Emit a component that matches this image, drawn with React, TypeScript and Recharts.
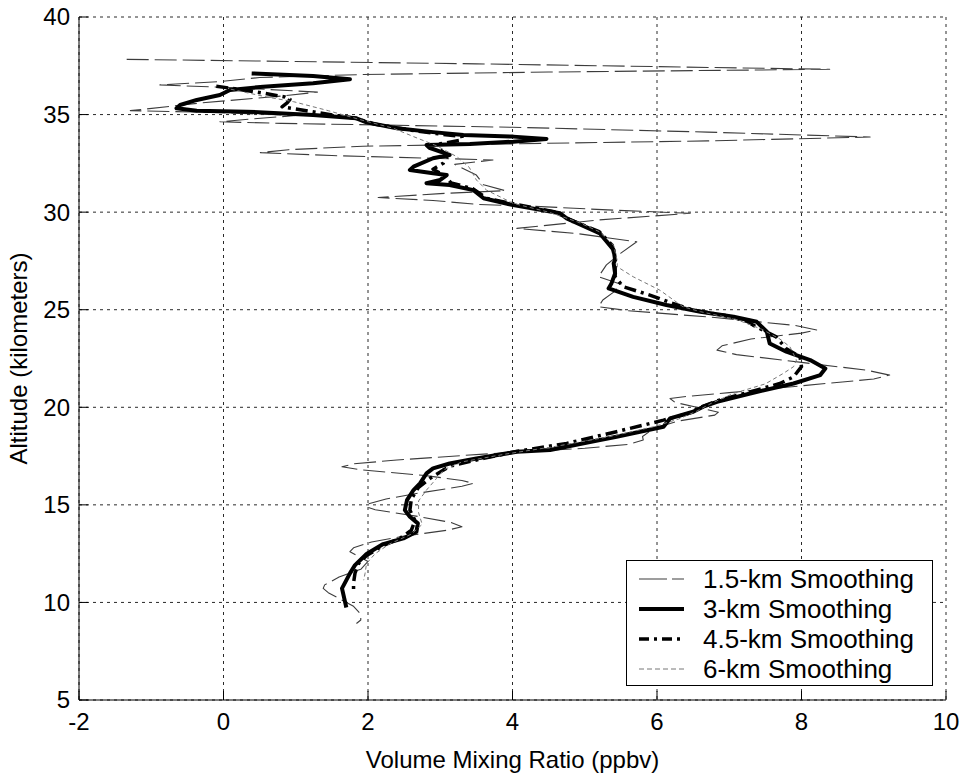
import React from 'react';
import { ScatterChart, Scatter, XAxis, YAxis, CartesianGrid, Legend } from 'recharts';

const FONT = "'Liberation Sans', Arial, Helvetica, sans-serif";
const FONT_SIZE = 24;
const LEGEND_FONT_SIZE = 26;
const TICK_LEN = 9;

const X_TICKS = [-2, 0, 2, 4, 6, 8, 10];
const Y_TICKS = [5, 10, 15, 20, 25, 30, 35, 40];

// profiles as [altitude km, mixing ratio ppbv], top of the profile first
const smooth15: [number, number][] = [
  [37.83, -1.34], [37.6, 3.5], [37.32, 8.39], [37.18, 4.5], [37.05, 1.9], [36.9, 0.5],
  [36.69, -0.05], [36.52, -0.88], [36.35, 0.3], [36.15, 1.3], [35.95, 0.8], [35.6, -0.3],
  [35.2, -1.29], [35.1, 0.0], [34.95, 1.0], [34.75, 0.3], [34.63, -0.05], [34.55, 0.8],
  [34.35, 4.0], [34.1, 6.7], [33.85, 8.95], [33.65, 6.7], [33.5, 4.0], [33.38, 1.93],
  [33.2, 0.9], [33.05, 0.51], [32.9, 1.5], [32.75, 3.0], [32.67, 3.73], [32.45, 3.2],
  [31.9, 3.5], [31.4, 3.6], [31.1, 3.9], [30.95, 3.0], [30.75, 2.14], [30.6, 2.9],
  [30.4, 3.5], [30.3, 4.3], [30.1, 5.4], [29.94, 6.46], [29.6, 5.2], [29.17, 4.06],
  [28.9, 4.9], [28.48, 5.72], [27.9, 5.5], [27.3, 5.3], [26.69, 5.19], [26.3, 5.5],
  [25.9, 5.4], [25.5, 5.25], [25.15, 5.19], [24.95, 5.6], [24.6, 6.8], [24.2, 7.9],
  [23.96, 8.21], [23.8, 8.0], [23.5, 7.3], [23.15, 6.9], [22.93, 6.83], [22.7, 7.1],
  [22.3, 8.0], [21.9, 8.9], [21.65, 9.22], [21.45, 9.0], [21.1, 8.0], [20.75, 7.0],
  [20.55, 6.4], [20.45, 6.18], [20.25, 6.25], [20.0, 6.55], [19.75, 6.85], [19.6, 6.8],
  [19.3, 6.3], [18.9, 5.95], [18.5, 5.8], [18.32, 5.81], [18.1, 5.6], [17.9, 5.0],
  [17.6, 3.6], [17.3, 2.4], [17.1, 1.8], [16.95, 1.64], [16.8, 1.9], [16.5, 2.8],
  [16.25, 3.3], [16.1, 3.46], [15.95, 3.3], [15.6, 2.7], [15.3, 2.25], [15.05, 2.0],
  [14.9, 1.98], [14.75, 2.1], [14.4, 2.7], [14.1, 3.15], [13.88, 3.3], [13.7, 3.1],
  [13.4, 2.5], [13.1, 2.05], [12.8, 1.8], [12.6, 1.75], [12.4, 1.85], [12.1, 2.0],
  [11.7, 1.9], [11.3, 1.6], [10.9, 1.4], [10.72, 1.38], [10.5, 1.45], [10.2, 1.6],
  [9.8, 1.8], [9.4, 1.9], [9.1, 1.9], [8.92, 1.84],
];

const smooth30: [number, number][] = [
  [37.11, 0.39], [36.98, 1.24], [36.81, 1.75], [36.6, 1.24], [36.43, 0.55], [36.26, 0.09],
  [36.0, -0.05], [35.75, -0.37], [35.49, -0.6], [35.32, -0.65], [35.2, -0.37], [35.15, 0.32],
  [34.98, 1.24], [34.81, 1.84], [34.6, 1.98], [34.3, 2.4], [34.1, 2.9], [33.95, 3.32],
  [33.87, 4.01], [33.75, 4.47], [33.61, 4.01], [33.49, 3.41], [33.44, 2.81], [33.3, 2.85],
  [33.1, 3.0], [32.93, 3.13], [32.76, 2.9], [32.33, 2.63], [32.16, 2.58], [31.99, 2.9],
  [31.9, 3.09], [31.65, 3.0], [31.48, 2.81], [31.39, 3.13], [31.13, 3.46], [30.71, 3.6],
  [30.36, 4.01], [29.94, 4.66], [29.68, 4.75], [28.91, 5.21], [28.06, 5.4], [27.55, 5.42],
  [27.38, 5.4], [26.86, 5.42], [26.35, 5.37], [26.09, 5.33], [25.66, 5.67], [25.24, 6.13],
  [24.9, 6.6], [24.64, 7.06], [24.38, 7.38], [23.87, 7.52], [23.27, 7.56], [22.85, 7.79],
  [22.42, 8.12], [21.99, 8.33], [21.65, 8.26], [21.22, 7.89], [20.71, 7.29], [20.28, 6.83],
  [20.03, 6.64], [19.77, 6.5], [19.43, 6.18], [19.0, 6.09], [18.49, 5.44], [18.32, 5.21],
  [17.81, 4.52], [17.72, 4.06], [17.38, 3.5], [17.12, 3.13], [16.87, 2.9], [16.61, 2.81],
  [16.1, 2.72], [15.76, 2.63], [15.24, 2.54], [14.73, 2.51], [14.39, 2.58], [14.05, 2.69],
  [13.62, 2.67], [13.28, 2.49], [12.99, 2.21], [12.48, 1.98], [11.91, 1.82], [11.49, 1.75],
  [10.72, 1.64], [9.74, 1.7],
];

const smooth45: [number, number][] = [
  [36.45, -0.1], [36.3, 0.2], [36.1, 0.55], [35.9, 0.85], [35.78, 0.92], [35.6, 0.88],
  [35.4, 0.81], [35.1, 1.3], [34.8, 1.84], [34.5, 2.1], [34.2, 2.6], [34.0, 3.0],
  [33.87, 3.3], [33.7, 3.3], [33.5, 3.0], [33.2, 3.0], [32.9, 3.1], [32.5, 3.04],
  [32.2, 2.9], [31.9, 3.05], [31.5, 3.15], [31.2, 3.45], [30.7, 3.65], [30.4, 4.05],
  [30.0, 4.6], [29.6, 4.8], [29.0, 5.2], [28.3, 5.38], [27.5, 5.42], [26.69, 5.42],
  [26.18, 5.53], [25.75, 5.9], [25.32, 6.22], [24.98, 6.5], [24.7, 6.95], [24.4, 7.25],
  [24.21, 7.33], [23.61, 7.65], [23.0, 7.79], [22.59, 7.98], [22.08, 8.0], [21.56, 7.89],
  [21.22, 7.7], [20.8, 7.3], [20.35, 6.85], [20.0, 6.6], [19.7, 6.45], [19.34, 6.09],
  [18.75, 5.44], [18.15, 4.75], [17.7, 4.0], [17.38, 3.6], [17.0, 3.15], [16.78, 3.04],
  [16.36, 2.86], [15.9, 2.7], [15.3, 2.6], [14.73, 2.58], [14.2, 2.65], [13.7, 2.6],
  [13.3, 2.45], [12.9, 2.2], [12.4, 1.98], [12.0, 1.87], [11.5, 1.82], [11.0, 1.8],
  [10.45, 1.8],
];

const smooth60: [number, number][] = [
  [36.3, 0.1], [35.9, 0.6], [35.66, 0.97], [35.2, 1.45], [34.7, 1.93], [34.3, 2.35],
  [33.87, 2.63], [33.4, 2.95], [32.84, 3.23], [32.3, 3.4], [31.65, 3.5], [31.13, 3.64],
  [30.45, 4.01], [30.0, 4.5], [29.5, 4.9], [29.0, 5.2], [28.3, 5.4], [27.5, 5.45],
  [27.2, 5.45], [26.69, 5.67], [26.0, 6.04], [25.15, 6.36], [24.9, 6.6], [24.5, 7.1],
  [24.0, 7.45], [23.5, 7.7], [23.1, 7.84], [22.42, 7.93], [22.08, 7.89], [21.74, 7.75],
  [21.2, 7.5], [20.71, 7.06], [20.2, 6.75], [19.8, 6.55], [19.4, 6.3], [19.0, 5.95],
  [18.5, 5.35], [18.0, 4.6], [17.6, 3.9], [17.2, 3.3], [16.8, 3.05], [16.36, 2.95],
  [15.76, 2.81], [15.2, 2.7], [14.6, 2.7], [14.0, 2.75], [13.5, 2.6], [13.0, 2.3],
  [12.5, 2.1], [12.0, 1.98], [11.5, 1.96], [11.14, 1.94],
];

type Series = {
  name: string;
  rows: [number, number][];
  stroke: string;
  width: number;
  dash?: string;
  legendDash?: string;
};

const SERIES: Series[] = [
  { name: '1.5-km Smoothing', rows: smooth15, stroke: '#3c3c3c', width: 1.1, dash: '22 6', legendDash: '28 5' },
  { name: '3-km Smoothing', rows: smooth30, stroke: '#000', width: 4 },
  { name: '4.5-km Smoothing', rows: smooth45, stroke: '#000', width: 3.5, dash: '12 5 3 5', legendDash: '10 5 3 5' },
  { name: '6-km Smoothing', rows: smooth60, stroke: '#777', width: 1, dash: '4 3', legendDash: '5 3' },
];

const toPoints = (rows: [number, number][]) => rows.map(([alt, vmr]) => ({ alt, vmr }));

const textStyle = { fontFamily: FONT, fontSize: FONT_SIZE, fill: '#000' };

// MATLAB-style ticks: short marks pointing into the plot box
function BottomTick({ x, y, payload }: any) {
  return (
    <g>
      <line x1={x} x2={x} y1={y} y2={y - TICK_LEN} stroke="#000" />
      <text x={x} y={y + 30} textAnchor="middle" {...textStyle}>{payload.value}</text>
    </g>
  );
}

function LeftTick({ x, y, payload }: any) {
  return (
    <g>
      <line x1={x} x2={x + TICK_LEN} y1={y} y2={y} stroke="#000" />
      <text x={x - 9} y={y} dy="0.35em" textAnchor="end" {...textStyle}>{payload.value}</text>
    </g>
  );
}

function TopTick({ x, y }: any) {
  return <line x1={x} x2={x} y1={y} y2={y + TICK_LEN} stroke="#000" />;
}

function RightTick({ x, y }: any) {
  return <line x1={x} x2={x - TICK_LEN} y1={y} y2={y} stroke="#000" />;
}

function LegendBox() {
  return (
    <div
      style={{
        boxSizing: 'border-box',
        width: 307,
        height: 126,
        border: '1px solid #000',
        background: '#fff',
        paddingTop: 3,
        fontFamily: FONT,
        fontSize: LEGEND_FONT_SIZE,
        color: '#000',
      }}
    >
      {SERIES.map((s) => (
        <div key={s.name} style={{ display: 'flex', alignItems: 'center', height: 30 }}>
          <svg width={76} height={30} style={{ flex: 'none' }}>
            <line
              x1={12}
              x2={57}
              y1={15}
              y2={15}
              stroke={s.stroke}
              strokeWidth={s.width}
              strokeDasharray={s.legendDash ?? s.dash}
            />
          </svg>
          <span style={{ lineHeight: '30px', whiteSpace: 'nowrap' }}>{s.name}</span>
        </div>
      ))}
    </div>
  );
}

export default function App() {
  return (
    <div style={{ position: 'fixed', left: 0, top: 0, width: 964, height: 776, background: '#fff' }}>
      <ScatterChart width={964} height={776} margin={{ top: 17, right: 18, bottom: 0, left: 8 }}>
        <CartesianGrid stroke="#2a2a2a" strokeDasharray="3 4" />
        <XAxis
          type="number"
          dataKey="vmr"
          domain={[-2, 10]}
          ticks={X_TICKS}
          allowDataOverflow
          height={76}
          tickSize={0}
          tickMargin={0}
          tickLine={false}
          tick={<BottomTick />}
          axisLine={{ stroke: '#000' }}
          label={{
            content: (props: any) => {
              const vb = props.viewBox;
              return (
                <text x={vb.x + vb.width / 2} y={vb.y + 68} textAnchor="middle" {...textStyle}>
                  Volume Mixing Ratio (ppbv)
                </text>
              );
            },
          }}
        />
        <XAxis
          xAxisId="top"
          orientation="top"
          type="number"
          domain={[-2, 10]}
          ticks={X_TICKS}
          allowDataOverflow
          height={0}
          tickSize={0}
          tickMargin={0}
          tickLine={false}
          tick={<TopTick />}
          axisLine={{ stroke: '#000' }}
        />
        <YAxis
          type="number"
          dataKey="alt"
          domain={[5, 40]}
          ticks={Y_TICKS}
          allowDataOverflow
          width={71}
          tickSize={0}
          tickMargin={0}
          tickLine={false}
          tick={<LeftTick />}
          axisLine={{ stroke: '#000' }}
          label={{
            content: (props: any) => {
              const vb = props.viewBox;
              const cy = vb.y + vb.height / 2;
              return (
                <text
                  transform={`translate(${vb.x + 19}, ${cy}) rotate(-90)`}
                  textAnchor="middle"
                  {...textStyle}
                >
                  Altitude (kilometers)
                </text>
              );
            },
          }}
        />
        <YAxis
          yAxisId="right"
          orientation="right"
          type="number"
          domain={[5, 40]}
          ticks={Y_TICKS}
          allowDataOverflow
          width={0}
          tickSize={0}
          tickMargin={0}
          tickLine={false}
          tick={<RightTick />}
          axisLine={{ stroke: '#000' }}
        />
        {SERIES.map((s) => (
          <Scatter
            key={s.name}
            name={s.name}
            data={toPoints(s.rows)}
            fill="none"
            line={{
              stroke: s.stroke,
              strokeWidth: s.width,
              strokeDasharray: s.dash,
              strokeLinejoin: 'round',
            }}
            lineType="joint"
            shape={() => <g />}
            isAnimationActive={false}
          />
        ))}
        <Legend
          layout="horizontal"
          verticalAlign="middle"
          align="center"
          content={<LegendBox />}
          wrapperStyle={{ position: 'absolute', left: 626, top: 560, width: 307, height: 126 }}
        />
      </ScatterChart>
    </div>
  );
}
